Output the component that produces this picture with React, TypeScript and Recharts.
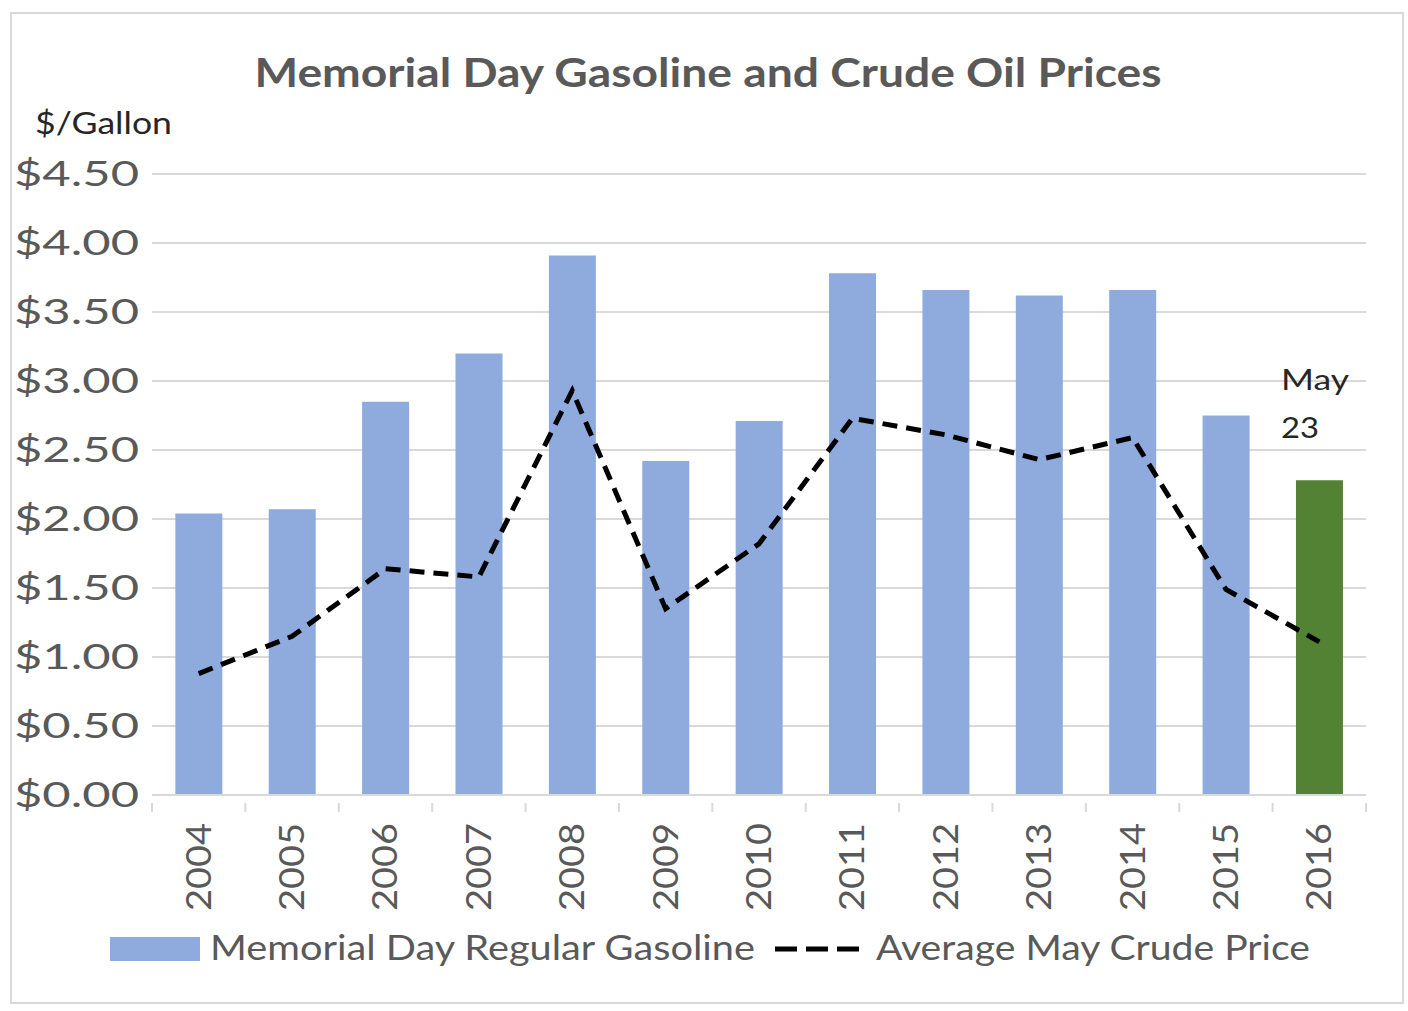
import {
  ComposedChart,
  Bar,
  Line,
  XAxis,
  YAxis,
  CartesianGrid,
  Legend,
  Cell,
  LabelList,
} from 'recharts';

const YEARS = ['2004', '2005', '2006', '2007', '2008', '2009', '2010', '2011', '2012', '2013', '2014', '2015', '2016'];
const GASOLINE = [2.04, 2.07, 2.85, 3.2, 3.91, 2.42, 2.71, 3.78, 3.66, 3.62, 3.66, 2.75, 2.28];
const CRUDE = [0.88, 1.15, 1.64, 1.58, 2.93, 1.35, 1.82, 2.73, 2.61, 2.43, 2.59, 1.49, 1.11];
const Y_TICKS = [0, 0.5, 1, 1.5, 2, 2.5, 3, 3.5, 4, 4.5];

const COLORS = {
  gasoline: '#8faadc',
  latest: '#548235',
  crude: '#000000',
  text: '#595959',
  grid: '#d9d9d9',
};

const FONT = 'Lato, "Open Sans", sans-serif';
const WIDTH = 1408;
const HEIGHT = 1011;
const MARGIN = { top: 174, right: 42, bottom: 36, left: 0 };
const Y_AXIS_W = 152;
const BAND = (WIDTH - MARGIN.right - Y_AXIS_W) / YEARS.length;

const data = YEARS.map((year, i) => ({ year, gasoline: GASOLINE[i], crude: CRUDE[i] }));

const YTick = (props: any) => {
  const { y, payload } = props;
  return (
    <text
      x={14}
      y={y}
      dy={12}
      fill={COLORS.text}
      fontSize={35}
      fontFamily={FONT}
      textLength={125}
      lengthAdjust="spacingAndGlyphs"
    >
      {`$${payload.value.toFixed(2)}`}
    </text>
  );
};

const XTick = (props: any) => {
  const { x, y, payload, index } = props;
  const last = index === YEARS.length - 1;
  return (
    <g>
      <line x1={x - BAND / 2} x2={x - BAND / 2} y1={y} y2={y + 9} stroke={COLORS.grid} strokeWidth={2} />
      {last && <line x1={x + BAND / 2} x2={x + BAND / 2} y1={y} y2={y + 9} stroke={COLORS.grid} strokeWidth={2} />}
      <text
        transform={`translate(${x + 12},${y + 20}) rotate(-90)`}
        textAnchor="end"
        fill={COLORS.text}
        fontSize={35}
        fontFamily={FONT}
        textLength={88}
        lengthAdjust="spacingAndGlyphs"
      >
        {payload.value}
      </text>
    </g>
  );
};

const LegendContent = () => (
  <svg width={WIDTH} height={50}>
    <rect x={110} y={12} width={90} height={24} fill={COLORS.gasoline} />
    <text
      x={210}
      y={35}
      fill={COLORS.text}
      fontSize={34}
      fontFamily={FONT}
      textLength={545}
      lengthAdjust="spacingAndGlyphs"
    >
      Memorial Day Regular Gasoline
    </text>
    <line x1={775} x2={860} y1={24} y2={24} stroke={COLORS.crude} strokeWidth={5} strokeDasharray="22 9" />
    <text
      x={876}
      y={35}
      fill={COLORS.text}
      fontSize={34}
      fontFamily={FONT}
      textLength={434}
      lengthAdjust="spacingAndGlyphs"
    >
      Average May Crude Price
    </text>
  </svg>
);

const MayLabel = (props: any) => {
  const { x, y, index } = props;
  if (index !== YEARS.length - 1) return null;
  return (
    <g fill="#262626" fontSize={29} fontFamily={FONT}>
      <text x={x - 15} y={y - 90} textLength={68} lengthAdjust="spacingAndGlyphs">May</text>
      <text x={x - 15} y={y - 42} textLength={38} lengthAdjust="spacingAndGlyphs">23</text>
    </g>
  );
};

export default function App() {
  return (
    <div style={{ position: 'absolute', left: 0, top: 0, width: WIDTH, height: HEIGHT, background: '#fff' }}>
      <div
        style={{
          position: 'absolute',
          left: 10,
          top: 12,
          width: 1394,
          height: 992,
          border: '2px solid #d9d9d9',
          boxSizing: 'border-box',
        }}
      />
      <ComposedChart width={WIDTH} height={HEIGHT} data={data} margin={MARGIN} barCategoryGap="25%">
        <text
          x={708}
          y={87}
          textAnchor="middle"
          fill={COLORS.text}
          fontSize={41}
          fontWeight="bold"
          fontFamily={FONT}
          textLength={907}
          lengthAdjust="spacingAndGlyphs"
        >
          Memorial Day Gasoline and Crude Oil Prices
        </text>
        <text
          x={35}
          y={134}
          fill="#262626"
          fontSize={30}
          fontFamily={FONT}
          textLength={137}
          lengthAdjust="spacingAndGlyphs"
        >
          $/Gallon
        </text>
        <CartesianGrid vertical={false} stroke={COLORS.grid} strokeWidth={2} />
        <XAxis
          dataKey="year"
          height={130}
          tick={<XTick />}
          tickLine={false}
          axisLine={{ stroke: COLORS.grid, strokeWidth: 2 }}
          interval={0}
        />
        <YAxis
          width={Y_AXIS_W}
          domain={[0, 4.5]}
          ticks={Y_TICKS}
          tick={<YTick />}
          tickLine={false}
          axisLine={false}
          interval={0}
        />
        <Legend verticalAlign="bottom" wrapperStyle={{ height: 50, width: WIDTH, left: 0 }} content={<LegendContent />} />
        <Bar dataKey="gasoline" name="Memorial Day Regular Gasoline" fill={COLORS.gasoline} isAnimationActive={false}>
          {data.map((entry, index) => (
            <Cell key={`cell-${index}`} fill={index === YEARS.length - 1 ? COLORS.latest : COLORS.gasoline} />
          ))}
          <LabelList dataKey="gasoline" content={<MayLabel />} />
        </Bar>
        <Line
          dataKey="crude"
          name="Average May Crude Price"
          type="linear"
          stroke={COLORS.crude}
          strokeWidth={5}
          strokeDasharray="15 9"
          dot={false}
          activeDot={false}
          isAnimationActive={false}
        />
      </ComposedChart>
    </div>
  );
}
